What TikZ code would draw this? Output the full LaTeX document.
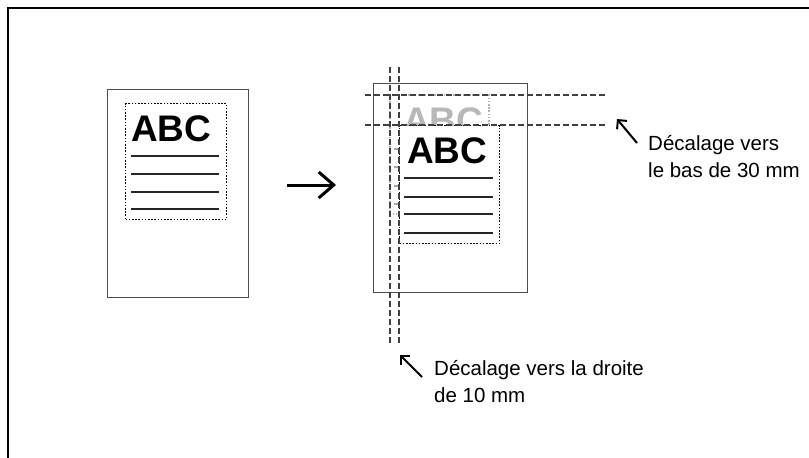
\documentclass[tikz,border=0pt]{standalone}
\usepackage{fontspec}
\setmainfont{Liberation Sans}
\usetikzlibrary{arrows.meta}
\tikzset{
  pagebox/.style={draw=black!70, line width=1.4pt, inner sep=0pt, anchor=north west},
  textbox/.style={draw=black, dash pattern=on 1.6pt off 1.6pt, line width=1.3pt, inner sep=0pt, anchor=north west},
  ghostbox/.style={draw=black!30, dash pattern=on 1.6pt off 1.6pt, line width=1.3pt},
  bigabc/.style={font=\fontsize{37}{37}\selectfont\bfseries, inner sep=0pt, anchor=base west, text height=27pt, text depth=0pt},
  rule/.style={line width=1.6pt, black!85},
  ghostrule/.style={line width=1.3pt, black!35},
  guide/.style={draw=black!75, line width=1.2pt, dash pattern=on 6pt off 3pt},
  label/.style={font=\fontsize{20.5}{27}\selectfont, inner sep=0pt, align=left, anchor=base west},
  pointer/.style={line width=2pt, -{Straight Barb[length=6.5pt,width=13pt]}},
  mainarrow/.style={line width=3pt, -{Straight Barb[length=15pt,width=26pt]}}
}
\begin{document}
\begin{tikzpicture}[x=1pt,y=-1pt]
\useasboundingbox (0,0) rectangle (809,458);
% frame
\draw[line width=2pt] (7.5,458) -- (7.5,7.5) -- (809,7.5);

% left page
\node[pagebox, minimum width=141pt, minimum height=208pt] (leftpage) at (107,89) {};
\node[textbox, minimum width=101pt, minimum height=116pt] (lefttext) at (125,103) {};
\node[bigabc] (leftabc) at (131,141) {ABC};
\foreach \y in {156,174,192,209} \draw[rule] (131,\y) -- (219,\y);

% main arrow
\draw[mainarrow, shorten <=38pt, shorten >=37pt] (leftpage.east |- 0,185) -- (373,185);

% right page
\node[pagebox, minimum width=154pt, minimum height=209pt] (rightpage) at (373,83) {};
% ghost (original position)
\draw[ghostbox] (390,95) rectangle (489,214);
\begin{scope}
\clip (380,90) rectangle (495,125);
\node[bigabc, text=black!28, text depth=0pt, text height=20pt] (ghostabc) at (403,133.5) {ABC};
\end{scope}
\foreach \y in {149,167,186,204} \draw[ghostrule] (394,\y) -- (482,\y);
% shifted content
\node[textbox, fill=white, minimum width=100pt, minimum height=118pt] (righttext) at (399,125) {};
\node[bigabc] (rightabc) at (407,163) {ABC};
\foreach \y in {178,197,214,233} \draw[rule] (404,\y) -- (493,\y);

% guides
\draw[guide] (365,95) -- (607,95);
\draw[guide] (365,125) -- (607,125);
\draw[guide] (390,67) -- (390,343);
\draw[guide] (399,67) -- (399,343);

% labels
\node[label] (labeldown) at (648,177) {Décalage vers\\le bas de 30 mm};
\coordinate (tipdown) at (617,119);
\draw[pointer] (637,143) -- (tipdown);

\node[label] (labelright) at (434,402) {Décalage vers la droite\\de 10 mm};
\coordinate (tipright) at (400,355);
\draw[pointer] (422,377) -- (tipright);
\end{tikzpicture}
\end{document}
